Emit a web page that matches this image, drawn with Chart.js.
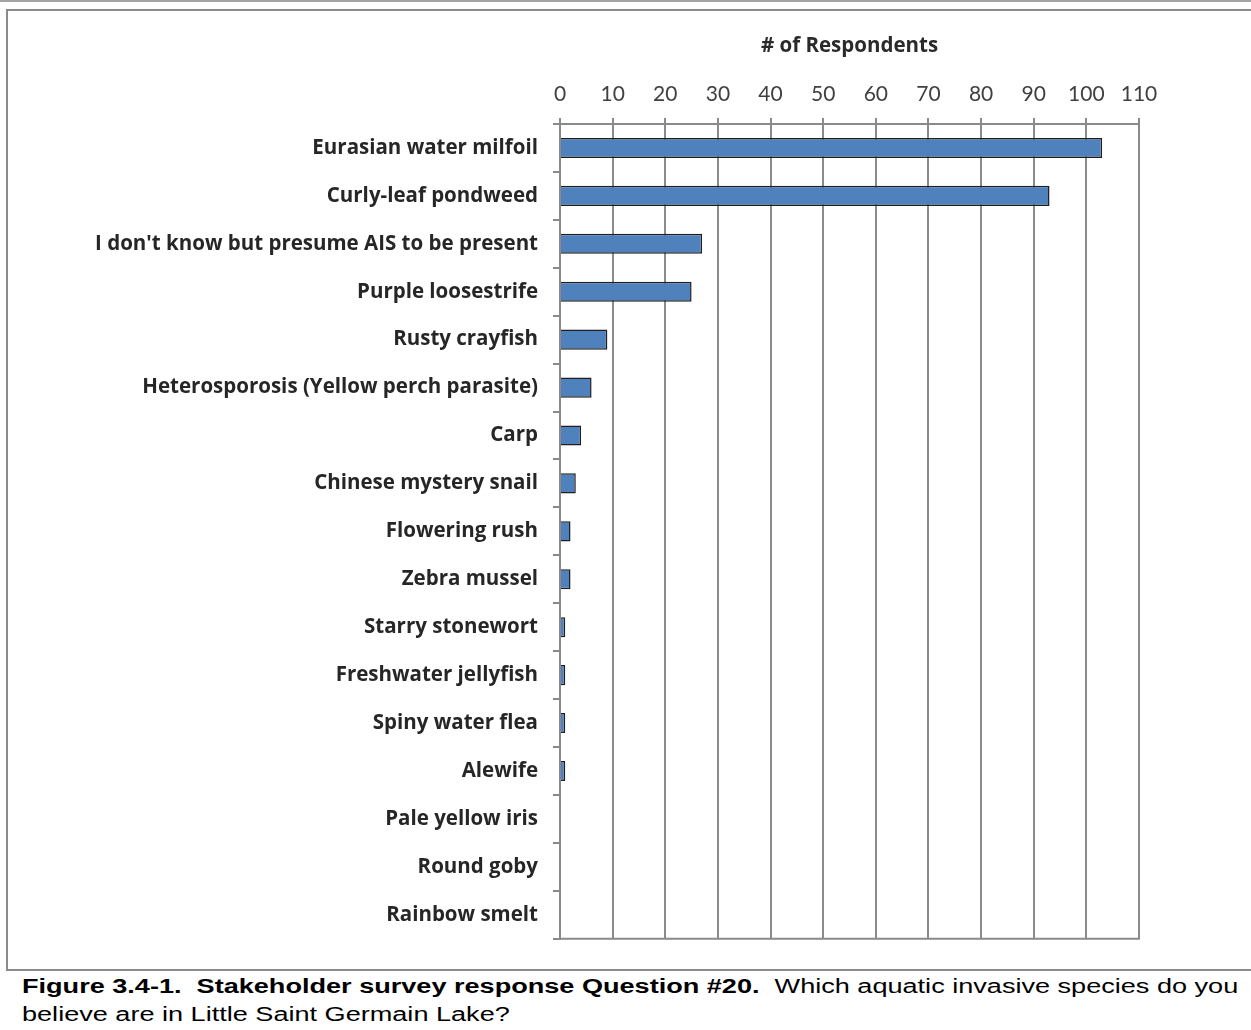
<!DOCTYPE html>
<html>
<head>
<meta charset="utf-8">
<script src="https://cdn.jsdelivr.net/npm/chart.js"></script>
<style>
  body { margin: 0; background: #fff; width: 1251px; height: 1030px; position: relative; overflow: hidden; }
  .line { position: absolute; background: #8a8a8a; }
  #chartBox { position: absolute; left: 0; top: 0; }
  .cap {
    position: absolute; left: 22px; white-space: nowrap; transform-origin: 0 0;
    font-family: "Liberation Sans", Arial, sans-serif; font-size: 20px; line-height: 28px; color: #000;
  }
</style>
</head>
<body>
<div class="line" style="left:0;top:0;width:1251px;height:2px;background:#a3a3a3"></div>
<div class="line" style="left:6px;top:9px;width:1245px;height:2px"></div>
<div class="line" style="left:6px;top:9px;width:2px;height:962px"></div>
<div class="line" style="left:6px;top:969px;width:1245px;height:2px"></div>
<div id="chartBox"><canvas id="chart" width="1251" height="966"></canvas></div>
<div class="cap" id="cap1" style="top:972px"><b>Figure 3.4-1.&nbsp; Stakeholder survey response Question #20.</b>&nbsp; Which aquatic invasive species do you</div>
<div class="cap" id="cap2" style="top:1000px">believe are in Little Saint Germain Lake?</div>
<script>
// Survey answers (top to bottom)
var species = [
    "Eurasian water milfoil",
    "Curly-leaf pondweed",
    "I don't know but presume AIS to be present",
    "Purple loosestrife",
    "Rusty crayfish",
    "Heterosporosis (Yellow perch parasite)",
    "Carp",
    "Chinese mystery snail",
    "Flowering rush",
    "Zebra mussel",
    "Starry stonewort",
    "Freshwater jellyfish",
    "Spiny water flea",
    "Alewife",
    "Pale yellow iris",
    "Round goby",
    "Rainbow smelt"
];
var respondents = [103, 93, 27, 25, 9, 6, 4, 3, 2, 2, 1, 1, 1, 1, 0, 0, 0];
var axisTitle = "# of Respondents";

// caption is set in a wide face: stretch both lines so line 1 spans the box
var cap1 = document.getElementById("cap1");
var cap2 = document.getElementById("cap2");
var stretch = 1216 / cap1.offsetWidth;
cap1.style.transform = "scaleX(" + stretch + ")";
cap2.style.transform = "scaleX(" + stretch + ")";

// draws the bottom edge of the plot area
var bottomLine = {
    id: "bottomLine",
    afterDraw(chart) {
        const a = chart.chartArea;
        const ctx = chart.ctx;
        ctx.save();
        ctx.strokeStyle = "#8a8a8a";
        ctx.lineWidth = 2;
        ctx.beginPath();
        ctx.moveTo(a.left, a.bottom);
        ctx.lineTo(a.right + 1, a.bottom);
        ctx.stroke();
        ctx.restore();
    }
};

new Chart(document.getElementById("chart"), {
    type: "bar",
    data: {
        labels: species,
        datasets: [{
            data: respondents,
            backgroundColor: "#4f81bd",
            borderColor: "#1f1f1f",
            borderWidth: 1.5,
            barPercentage: 0.42,
            categoryPercentage: 1
        }]
    },
    options: {
        indexAxis: "y",
        responsive: false,
        animation: false,
        layout: { padding: { left: 0, top: 0, right: 112, bottom: 25 } },
        plugins: { legend: { display: false }, tooltip: { enabled: false } },
        scales: {
            x: {
                position: "top",
                min: 0,
                max: 110,
                afterFit(scale) { scale.height = 124; },
                ticks: {
                    stepSize: 10,
                    padding: 11,
                    color: "#404040",
                    font: { family: "Lato", size: 21 }
                },
                grid: { color: "#8a8a8a", lineWidth: 2, tickLength: 6, tickColor: "#8a8a8a" },
                border: { display: true, color: "#8a8a8a", width: 2 },
                title: {
                    display: true,
                    text: axisTitle,
                    color: "#2a2a2a",
                    font: { family: "Open Sans", size: 20.5, weight: "bold" },
                    padding: { top: 34, bottom: 0 }
                }
            },
            y: {
                afterFit(scale) { scale.width = 560; },
                ticks: {
                    padding: 15,
                    color: "#262626",
                    font: { family: "Open Sans", size: 20.5, weight: "bold" }
                },
                grid: { drawOnChartArea: false, tickLength: 7, tickColor: "#8a8a8a", lineWidth: 2 },
                border: { display: true, color: "#8a8a8a", width: 2 }
            }
        }
    },
    plugins: [bottomLine]
});
</script>
</body>
</html>
